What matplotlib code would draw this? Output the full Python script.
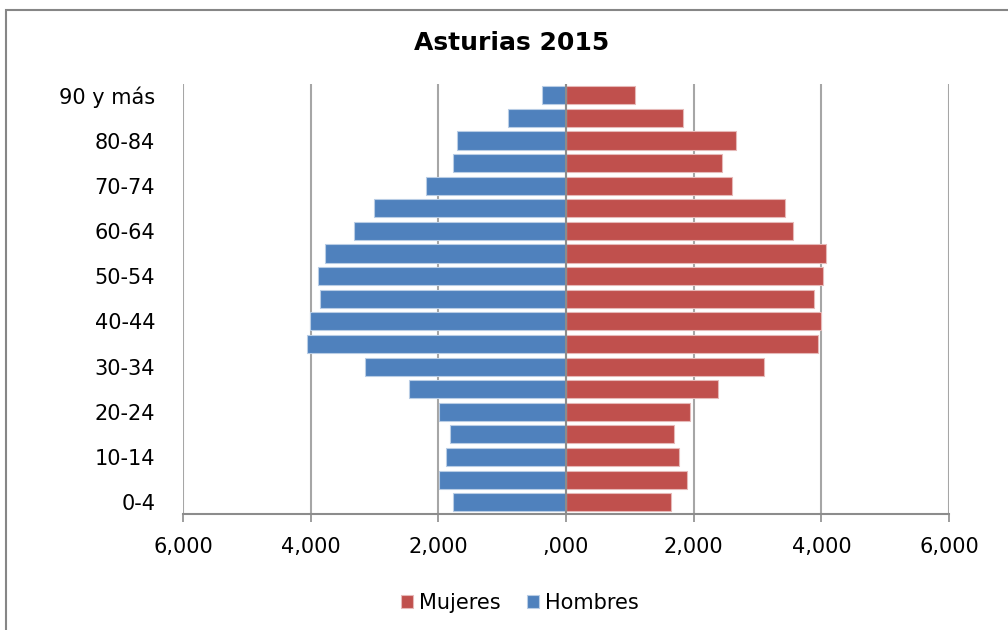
import matplotlib.pyplot as plt
from matplotlib.patches import Rectangle

# data
grupos = ["0-4", "5-9", "10-14", "15-19", "20-24", "25-29", "30-34", "35-39",
          "40-44", "45-49", "50-54", "55-59", "60-64", "65-69", "70-74",
          "75-79", "80-84", "85-89", "90 y más"]
hombres = [1770, 1994, 1875, 1812, 1994, 2464, 3153, 4056, 4009, 3848,
           3889, 3779, 3325, 3007, 2188, 1775, 1712, 913, 381]
mujeres = [1643, 1898, 1773, 1685, 1936, 2379, 3109, 3948, 4001, 3886,
           4033, 4074, 3552, 3427, 2608, 2441, 2671, 1836, 1080]
x_ticks = [-6000, -4000, -2000, 0, 2000, 4000, 6000]
x_labels = ["6,000", "4,000", "2,000", ",000", "2,000", "4,000", "6,000"]

azul = "#4F81BD"
rojo = "#C0504D"

fig = plt.figure(figsize=(10.08, 6.3), dpi=100)
ax = fig.add_axes([183/1008, 116.5/630, 766/1008, 429.5/630])

pos = range(len(grupos))
ax.barh(pos, mujeres, height=0.8, color=rojo, edgecolor="#E6B9B8",
        linewidth=0.8, label="Mujeres", zorder=3)
ax.barh(pos, [-h for h in hombres], height=0.8, color=azul, edgecolor="#B9CDE5",
        linewidth=0.8, label="Hombres", zorder=3)

ax.set_xlim(-6000, 6000)
ax.set_ylim(-0.5, len(grupos) - 0.5)
ax.set_xticks(x_ticks)
ax.set_xticklabels(x_labels, fontsize=15)
ax.set_yticks(list(pos)[::2])
ax.set_yticklabels(grupos[::2], fontsize=15)
ax.tick_params(axis="y", length=0, pad=20)
ax.tick_params(axis="x", length=6, width=1.2, color="#8C8C8C", pad=11,
               direction="out")

ax.grid(axis="x", color="#A6A6A6", linewidth=1.5, zorder=0)
ax.axvline(0, color="#8C8C8C", linewidth=1.5, zorder=4)
for s in ["top", "right", "left"]:
    ax.spines[s].set_visible(False)
ax.spines["bottom"].set_color("#8C8C8C")
ax.spines["bottom"].set_linewidth(1.5)

fig.text(512/1008, 1 - 43/630, "Asturias 2015", fontsize=18, fontweight="bold",
         ha="center", va="center")

ax.legend(loc="center", bbox_to_anchor=(520/1008, 1 - 603/630),
          bbox_transform=fig.transFigure, ncol=2, frameon=False, fontsize=15,
          handlelength=0.55, handleheight=0.55, handletextpad=0.3,
          columnspacing=1.3)

fig.patches.append(Rectangle((6/1008, -0.02), 1.1, 1 - 10/630 + 0.02,
                             transform=fig.transFigure, fill=False,
                             edgecolor="#868686", linewidth=1.5))

fig.savefig("out.png", dpi=100)
